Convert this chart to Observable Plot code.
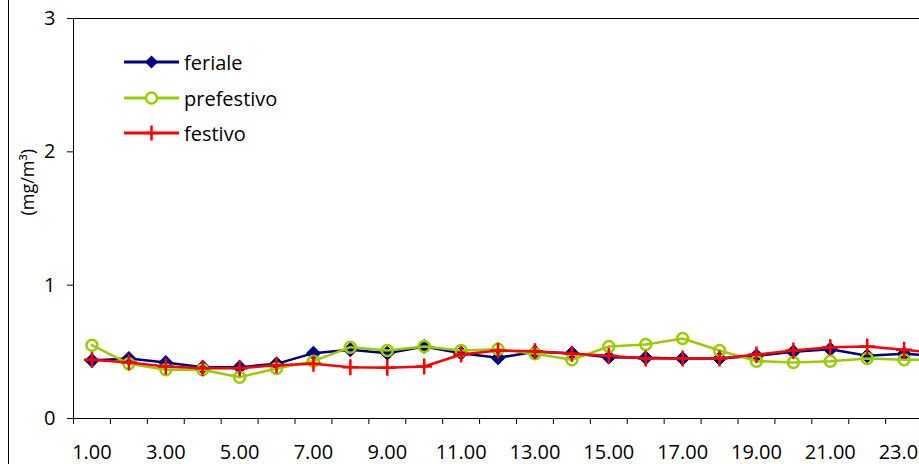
<!DOCTYPE html>
<html><head><meta charset="utf-8">
<script src="https://cdn.jsdelivr.net/npm/d3@7"></script>
<script src="https://cdn.jsdelivr.net/npm/@observablehq/plot@0.6"></script>
<style>
html,body{margin:0;padding:0;overflow:hidden;background:#fff;width:919px;height:464px;}
#wrap{position:relative;width:919px;height:464px;overflow:hidden;font-family:"Open Sans",sans-serif;}
#chart{position:absolute;left:0;top:0;width:980px;}
#chart svg{max-width:none !important;}
#border{position:absolute;left:8px;top:0;height:464px;border-left:1px solid #000;}
#legend{position:absolute;left:0;top:0;}
.row{position:absolute;left:124px;display:flex;align-items:center;height:24px;white-space:nowrap;font-size:20px;color:#000;}
.row svg{margin-right:5px;}
</style></head><body>
<div id="wrap"><div id="border"></div><div id="chart"></div><div id="legend"></div></div>
<script>
const hours = [1,2,3,4,5,6,7,8,9,10,11,12,13,14,15,16,17,18,19,20,21,22,23,24];
const hourLabels = [1,3,5,7,9,11,13,15,17,19,21,23];
const feriale    = [0.435,0.45,0.42,0.385,0.385,0.41,0.49,0.515,0.49,0.54,0.49,0.455,0.50,0.49,0.46,0.455,0.45,0.45,0.47,0.50,0.52,0.47,0.485,0.47];
const prefestivo = [0.55,0.41,0.365,0.365,0.31,0.375,0.43,0.535,0.51,0.54,0.51,0.52,0.485,0.44,0.54,0.555,0.60,0.51,0.43,0.42,0.43,0.45,0.44,0.44];
const festivo    = [0.44,0.42,0.39,0.377,0.377,0.40,0.41,0.385,0.38,0.39,0.48,0.51,0.505,0.485,0.47,0.45,0.45,0.45,0.48,0.51,0.535,0.54,0.515,0.49];
const yTicks = [0,1,2,3];
const seriesNames = ["feriale","prefestivo","festivo"];
const colors = {feriale:"#000080", prefestivo:"#99cc00", festivo:"#ff0000"};

const rows = s => hours.map((h,i)=>({h, v: s[i]}));
const dF = rows(feriale), dP = rows(prefestivo), dS = rows(festivo);
const boundaries = d3.range(0.5, 25, 1);

const chart = Plot.plot({
  width: 980, height: 464,
  marginLeft: 73, marginRight: 21, marginTop: 18, marginBottom: 46,
  style: {fontFamily: '"Open Sans", sans-serif', color: "#000", background: "transparent", maxWidth: "none"},
  x: {type: "linear", domain: [0.5, 24.5], label: null},
  y: {domain: [0, 3], label: null},
  marks: [
    Plot.frame({stroke: "#000"}),
    Plot.axisX({ticks: boundaries, tickSize: 6, tickFormat: () => "", stroke: "#000", label: null}),
    Plot.axisX({ticks: hourLabels, tickSize: 0, tickPadding: 26, fontSize: 20, tickFormat: d => d.toFixed(2), label: null}),
    Plot.axisY({ticks: yTicks, tickSize: 6, tickPadding: 12, fontSize: 20, tickFormat: d => String(d), label: null, stroke: "#000"}),
    Plot.text(["(mg/m³)"], {frameAnchor: "left", dx: -45, dy: -3, rotate: -90, fontSize: 18, fill: "#000"}),
    Plot.line(dF, {x: "h", y: "v", stroke: colors.feriale, strokeWidth: 2.5}),
    Plot.dot(dF, {x: "h", y: "v", symbol: "diamond2", r: 6.3, fill: colors.feriale, stroke: colors.feriale, strokeWidth: 1}),
    Plot.line(dP, {x: "h", y: "v", stroke: colors.prefestivo, strokeWidth: 2.5}),
    Plot.dot(dP, {x: "h", y: "v", symbol: "circle", r: 5.5, fill: "none", stroke: colors.prefestivo, strokeWidth: 2.5}),
    Plot.line(dS, {x: "h", y: "v", stroke: colors.festivo, strokeWidth: 2.5}),
    Plot.dot(dS, {x: "h", y: "v", symbol: "plus", r: 5.2, stroke: colors.festivo, strokeWidth: 2.5})
  ]
});
document.getElementById("chart").appendChild(chart);

// legend
const legendY = [62, 98, 133];
const leg = document.getElementById("legend");
seriesNames.forEach((name, i) => {
  const c = colors[name];
  let marker = "";
  if (name === "feriale") marker = `<path d="M27.5,0.5 L34,7 L27.5,13.5 L21,7 Z" fill="${c}"/>`;
  else if (name === "prefestivo") marker = `<circle cx="27.5" cy="7" r="5.5" fill="#fff" stroke="${c}" stroke-width="2.5"/>`;
  else marker = `<path d="M27.5,-0.5 V14.5 M21.5,7 H33.5" stroke="${c}" stroke-width="2.5"/>`;
  const div = document.createElement("div");
  div.className = "row";
  div.style.top = (legendY[i] - 12) + "px";
  div.innerHTML = `<svg width="55" height="14" style="overflow:visible"><line x1="0" x2="55" y1="7" y2="7" stroke="${c}" stroke-width="3"/>${marker}</svg><span>${name}</span>`;
  leg.appendChild(div);
});
</script>
</body></html>
